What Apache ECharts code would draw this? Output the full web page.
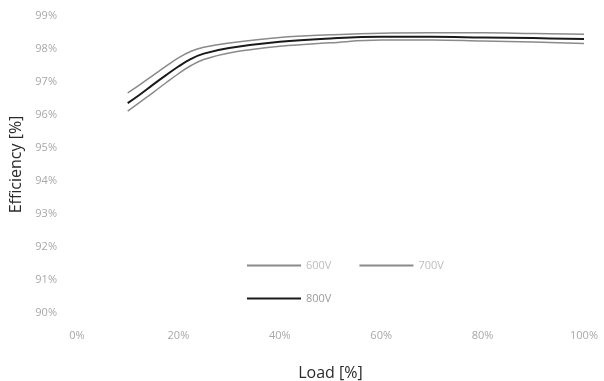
<!DOCTYPE html>
<html>
<head>
<meta charset="utf-8">
<script src="https://cdn.jsdelivr.net/npm/echarts@6/dist/echarts.min.js"></script>
<style>
html,body{margin:0;padding:0;background:#fff;}
#c{width:604px;height:381px;}
</style>
</head>
<body>
<div id="c"></div>
<script>
var loads = [10, 12.5, 15, 17.5, 20, 22.5, 25, 30, 40, 50, 60, 70, 80, 90, 100];
var effA = [96.67, 96.93, 97.20, 97.47, 97.73, 97.93, 98.05, 98.18, 98.35, 98.43, 98.48, 98.49, 98.49, 98.47, 98.45];
var eff800 = [96.36, 96.63, 96.92, 97.20, 97.47, 97.70, 97.86, 98.03, 98.22, 98.32, 98.37, 98.37, 98.35, 98.33, 98.30];
var effB = [96.12, 96.40, 96.68, 96.97, 97.25, 97.50, 97.68, 97.88, 98.08, 98.19, 98.27, 98.27, 98.24, 98.21, 98.17];
var seriesNames = ['600V', '700V', '800V'];
var xTicks = [0, 20, 40, 60, 80, 100];
var yTicks = [90, 91, 92, 93, 94, 95, 96, 97, 98, 99];

function pairs(ys){ return loads.map(function(x,i){ return [x, ys[i]]; }); }

var chart = echarts.init(document.getElementById('c'), null, {renderer:'canvas'});
var font = '"Open Sans", "Liberation Sans", sans-serif';
chart.setOption({
  animation: false,
  backgroundColor: '#fff',
  grid: {left: 77, right: 20, top: 16, bottom: 68, outerBoundsMode: 'none', containLabel: false},
  xAxis: {
    type: 'value', min: xTicks[0], max: xTicks[xTicks.length-1], interval: 20,
    axisLine: {show: false}, axisTick: {show: false}, splitLine: {show: false},
    axisLabel: {formatter: '{value}%', color: '#a8a8a8', fontSize: 11, margin: 17, fontFamily: font},
    name: 'Load [%]', nameLocation: 'middle', nameGap: 52,
    nameTextStyle: {fontSize: 16, color: '#2a2a2a', fontFamily: font}
  },
  yAxis: {
    type: 'value', min: yTicks[0], max: yTicks[yTicks.length-1], interval: 1,
    axisLine: {show: false}, axisTick: {show: false}, splitLine: {show: false},
    axisLabel: {formatter: '{value}%', color: '#a8a8a8', fontSize: 11, margin: 20, fontFamily: font},
    name: 'Efficiency [%]', nameLocation: 'middle', nameGap: 47,
    nameTextStyle: {fontSize: 16, color: '#2a2a2a', fontFamily: font}
  },
  legend: [
    {data: [seriesNames[0], seriesNames[1]], left: 247, top: 260, orient: 'horizontal', padding: 0,
     itemWidth: 54, itemHeight: 2, itemGap: 28, icon: 'rect',
     textStyle: {color: '#bdbdbd', fontSize: 11, fontFamily: font}},
    {data: [seriesNames[2]], left: 247, top: 293, orient: 'horizontal', padding: 0,
     itemWidth: 54, itemHeight: 2, icon: 'rect',
     textStyle: {color: '#9a9a9a', fontSize: 11, fontFamily: font}}
  ],
  series: [
    {name: seriesNames[0], type: 'line', smooth: 0.4, showSymbol: false, data: pairs(effA),
     itemStyle: {color: '#8a8a8a'}, lineStyle: {color: '#8a8a8a', width: 1.5}},
    {name: seriesNames[1], type: 'line', smooth: 0.4, showSymbol: false, data: pairs(effB),
     itemStyle: {color: '#8a8a8a'}, lineStyle: {color: '#8a8a8a', width: 1.5}},
    {name: seriesNames[2], type: 'line', smooth: 0.4, showSymbol: false, data: pairs(eff800),
     itemStyle: {color: '#1a1a1a'}, lineStyle: {color: '#1a1a1a', width: 2}}
  ]
});
</script>
</body>
</html>
